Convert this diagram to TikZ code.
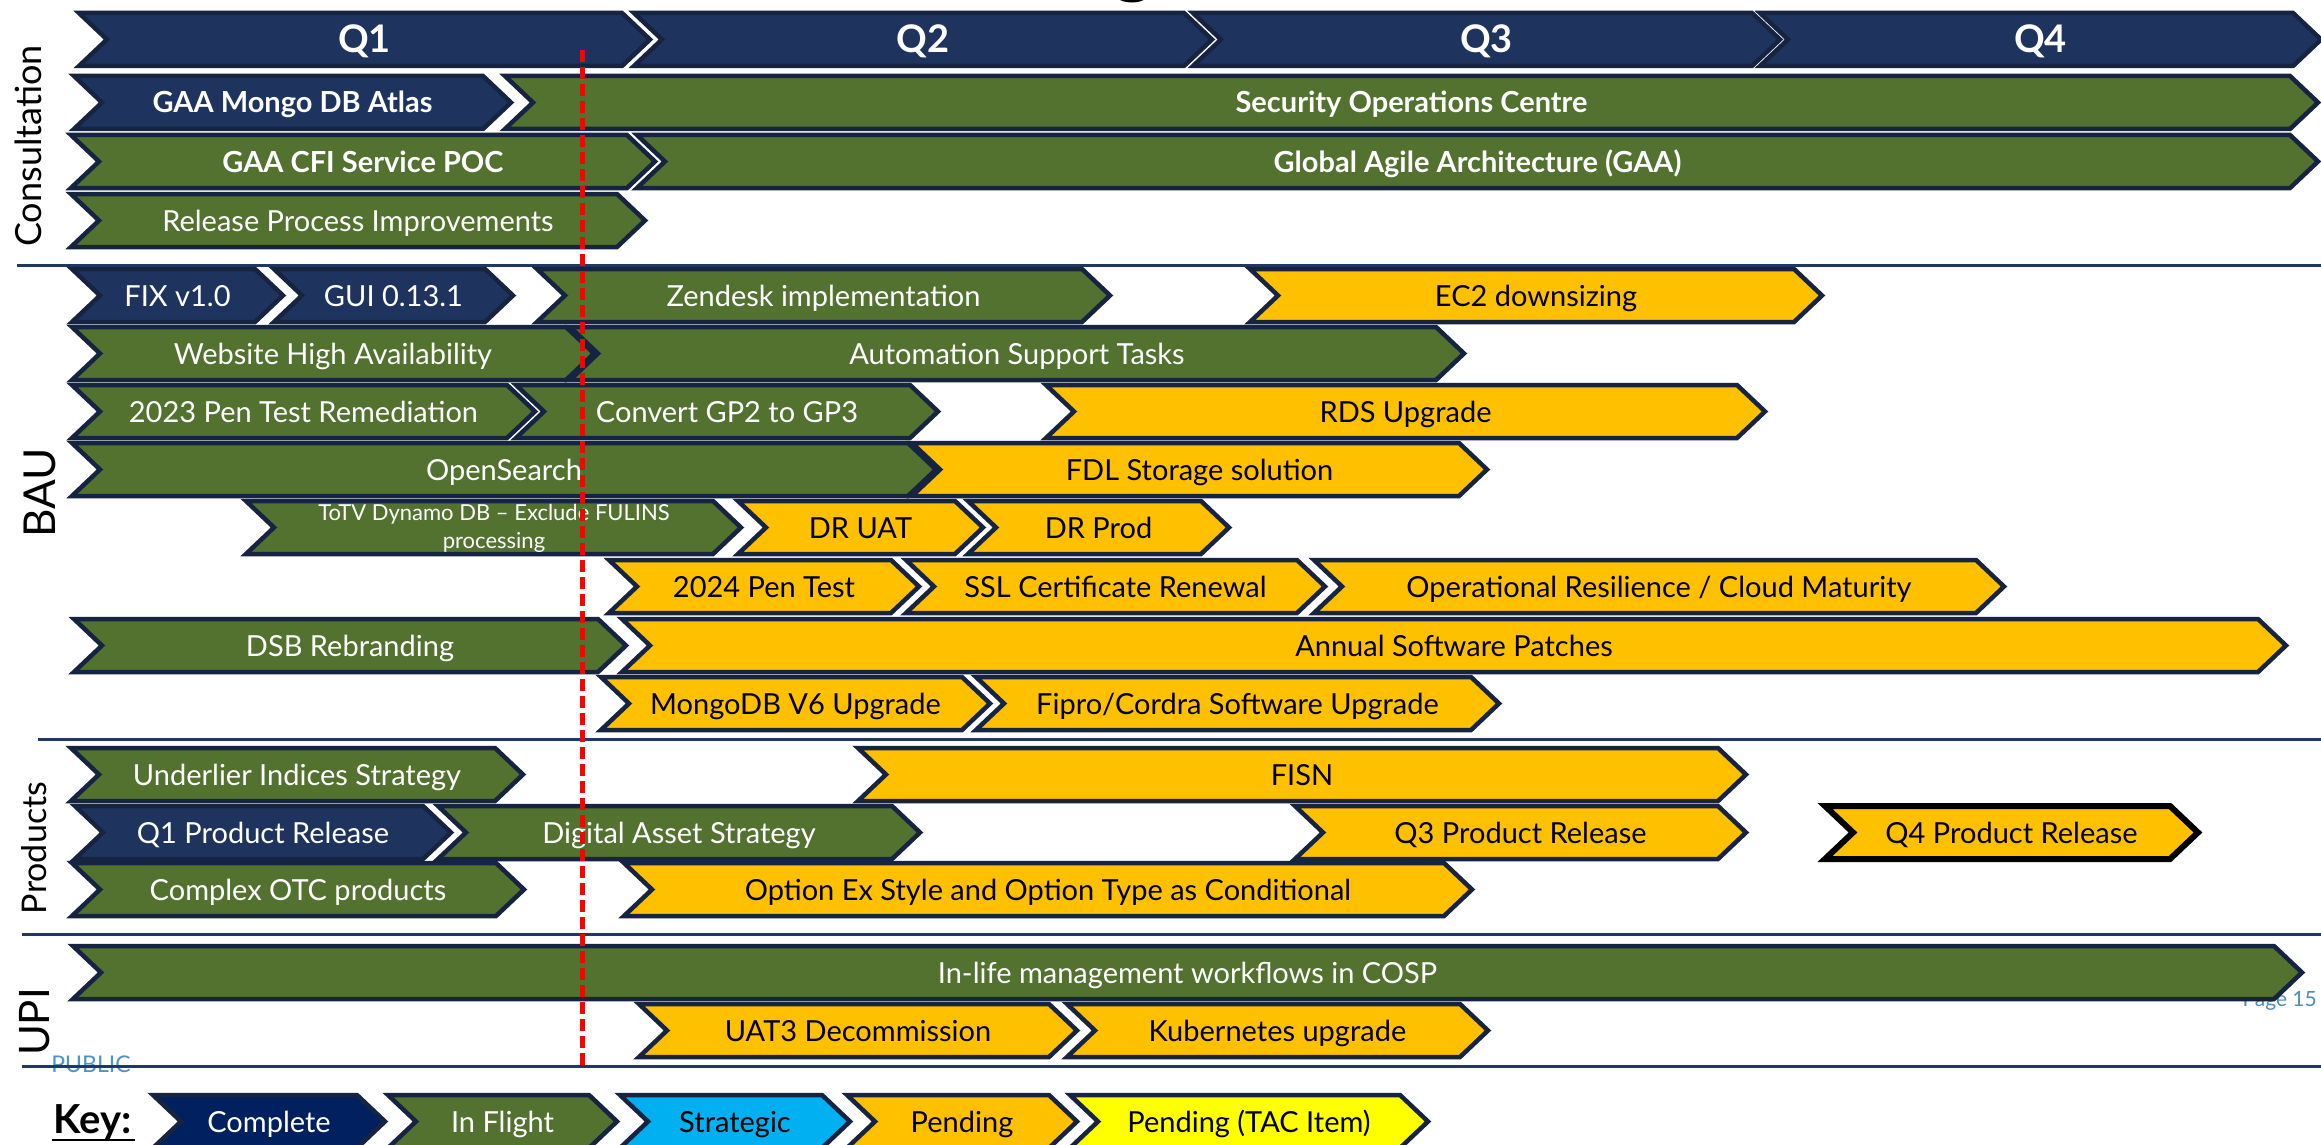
\documentclass[tikz,border=0pt]{standalone}
\usepackage{fontspec}
\setmainfont{Lato}
\definecolor{navy}{RGB}{30,52,95}
\definecolor{keynavy}{RGB}{0,32,96}
\definecolor{flight}{RGB}{83,114,48}
\definecolor{amber}{RGB}{255,192,0}
\definecolor{strat}{RGB}{0,176,240}
\definecolor{tac}{RGB}{255,255,0}
\definecolor{edge}{RGB}{22,36,66}
\definecolor{rulecol}{RGB}{31,56,100}
\definecolor{pubblue}{RGB}{74,150,200}
\definecolor{pageblue}{RGB}{80,140,185}
\def\cd{28}
\newcommand{\chev}[7]{%
  \path[bar,#5] (#2,#4) -- ({#3-\cd},#4) -- (#3,{#4+26.5}) -- ({#3-\cd},{#4+53}) -- (#2,{#4+53}) -- ({#2+\cd},{#4+26.5}) -- cycle;
  \node[#6] (#1) at ({(#2+#3)/2},{#4+26.5}) {#7};
}
\tikzset{
  bar/.style={draw=edge, line width=4.5pt, line join=miter},
  fnavy/.style={fill=navy},
  fkey/.style={fill=keynavy},
  fgreen/.style={fill=flight},
  famber/.style={fill=amber},
  famberblack/.style={fill=amber, draw=black, line width=6pt},
  fstrat/.style={fill=strat},
  ftac/.style={fill=tac},
  wt/.style={text=white, font=\fontsize{29}{32}\selectfont, text height=21pt, text depth=0pt, inner sep=0pt},
  bt/.style={wt, text=black},
  wbold/.style={wt, font=\fontsize{29}{32}\selectfont\bfseries},
  qt/.style={text=white, font=\fontsize{38}{40}\selectfont\bfseries, text height=27pt, text depth=0pt, inner sep=0pt},
  wsmall/.style={text=white, font=\fontsize{22}{24}\selectfont, anchor=base, inner sep=0pt},
  seclabel/.style={rotate=90, text=black, inner sep=0pt},
  sepline/.style={draw=rulecol, line width=3pt},
  redline/.style={draw=red, line width=5pt, dash pattern=on 12pt off 5pt},
}
\begin{document}
\begin{tikzpicture}[x=1pt,y=-1pt]
\useasboundingbox (0,0) rectangle (2321,1145);
\clip (0,0) rectangle (2321,1145);
\fill[white] (0,0) rectangle (2321,1145);

% cut-off title fragment
\node[font=\fontsize{80}{80}\selectfont\bfseries, anchor=base, inner sep=0pt] (titleg) at (1134,-11) {g};

% section labels
\node[seclabel, font=\fontsize{36}{36}\selectfont] (lblcons) at (28,146) {Consultation};
\node[seclabel, font=\fontsize{44}{44}\selectfont] (lblbau) at (40,493) {BAU};
\node[seclabel, font=\fontsize{34}{34}\selectfont] (lblprod) at (34,848) {Products};
\node[seclabel, font=\fontsize{42}{42}\selectfont] (lblupi) at (35,1022) {UPI};

% footer texts (under other shapes)
\node[text=pageblue, font=\fontsize{21}{21}\selectfont, anchor=base east, inner sep=0pt] (page) at (2317,1006) {Page 15};
\node[text=pubblue, font=\fontsize{23}{23}\selectfont, anchor=base, inner sep=0pt] (public) at (91,1072) {PUBLIC};

% separators
\coordinate (s1l) at (17,265);  \coordinate (s1r) at (2321,265);
\coordinate (s2l) at (38,739);  \coordinate (s2r) at (2321,739);
\coordinate (s3l) at (22,934);  \coordinate (s3r) at (2321,934);
\coordinate (s4l) at (22,1066); \coordinate (s4r) at (2321,1066);
\draw[sepline] (s1l) -- (s1r);
\draw[sepline] (s2l) -- (s2r);
\draw[sepline] (s3l) -- (s3r);
\draw[sepline] (s4l) -- (s4r);

% quarters
\chev{q1}{79}{650}{13}{fnavy}{qt}{Q1}
\chev{q2}{634}{1212}{13}{fnavy}{qt}{Q2}
\chev{q3}{1193}{1780}{13}{fnavy}{qt}{Q3}
\chev{q4}{1760}{2321}{13}{fnavy}{qt}{Q4}

% consultation
\chev{mongo}{74}{511}{76}{fnavy}{wbold}{GAA Mongo DB Atlas}
\chev{soc}{505}{2318}{76}{fgreen}{wbold}{Security Operations Centre}
\chev{cfi}{71}{655}{135}{fgreen}{wbold}{GAA CFI Service POC}
\chev{gaa}{637}{2318}{135}{fgreen}{wbold}{Global Agile Architecture (GAA)}
\chev{rpi}{71}{645}{194}{fgreen}{wt}{Release Process Improvements}

% BAU
\chev{fix}{72}{283}{269}{fnavy}{wt}{FIX v1.0}
\chev{gui}{274}{513}{269}{fnavy}{wt}{GUI 0.13.1}
\chev{zen}{537}{1110}{269}{fgreen}{wt}{Zendesk implementation}
\chev{ec2}{1250}{1822}{269}{famber}{bt}{EC2 downsizing}
\chev{web}{72}{594}{327}{fgreen}{wt}{Website High Availability}
\chev{auto}{570}{1464}{327}{fgreen}{wt}{Automation Support Tasks}
\chev{pen23}{72}{535}{385}{fgreen}{wt}{2023 Pen Test Remediation}
\chev{gp}{516}{938}{385}{fgreen}{wt}{Convert GP2 to GP3}
\chev{rds}{1046}{1765}{385}{famber}{bt}{RDS Upgrade}
\chev{os}{72}{936}{443}{fgreen}{wt}{OpenSearch}
\chev{fdl}{912}{1487}{443}{famber}{bt}{FDL Storage solution}
\chev{totv}{246}{741}{501}{fgreen}{wt}{}
\node[wsmall] (totva) at (494,520) {ToTV Dynamo DB – Exclude FULINS};
\node[wsmall] (totvb) at (494,548) {processing};
\chev{druat}{738}{983}{501}{famber}{bt}{DR UAT}
\chev{drprod}{968}{1229}{501}{famber}{bt}{DR Prod}
\chev{pen24}{609}{919}{560}{famber}{bt}{2024 Pen Test}
\chev{ssl}{906}{1325}{560}{famber}{bt}{SSL Certificate Renewal}
\chev{opres}{1314}{2004}{560}{famber}{bt}{Operational Resilience / Cloud Maturity}
\chev{dsb}{74}{626}{619}{fgreen}{wt}{DSB Rebranding}
\chev{asp}{622}{2286}{619}{famber}{bt}{Annual Software Patches}
\chev{mdb}{601}{990}{677}{famber}{bt}{MongoDB V6 Upgrade}
\chev{fipro}{976}{1499}{677}{famber}{bt}{Fipro/Cordra Software Upgrade}

% products
\chev{uis}{71}{523}{748}{fgreen}{wt}{Underlier Indices Strategy}
\chev{fisn}{858}{1746}{748}{famber}{bt}{FISN}
\chev{q1pr}{75}{451}{806}{fnavy}{wt}{Q1 Product Release}
\chev{das}{438}{920}{806}{fgreen}{wt}{Digital Asset Strategy}
\chev{q3pr}{1295}{1746}{806}{famber}{bt}{Q3 Product Release}
\chev{q4pr}{1825}{2198}{806}{famberblack}{bt}{Q4 Product Release}
\chev{otc}{72}{524}{863}{fgreen}{wt}{Complex OTC products}
\chev{opt}{624}{1472}{863}{famber}{bt}{Option Ex Style and Option Type as Conditional}

% UPI
\chev{inlife}{73}{2302}{946}{fgreen}{wt}{In-life management workflows in COSP}
\chev{uat3}{639}{1077}{1004}{famber}{bt}{UAT3 Decommission}
\chev{kube}{1067}{1488}{1004}{famber}{bt}{Kubernetes upgrade}

% key
\node[font=\fontsize{40}{40}\selectfont\bfseries, anchor=base, inner sep=0pt] (key) at (93,1133) {Key:};
\coordinate (kul) at (52,1140); \coordinate (kur) at (135,1140);
\draw[line width=2.5pt] (kul) -- (kur);
\chev{kcomplete}{153}{385}{1095}{fkey}{wt}{Complete}
\chev{kflight}{388}{617}{1095}{fgreen}{wt}{In Flight}
\chev{kstrat}{620}{850}{1095}{fstrat}{bt}{Strategic}
\chev{kpend}{847}{1077}{1095}{famber}{bt}{Pending}
\chev{ktac}{1070}{1428}{1095}{ftac}{bt}{Pending (TAC Item)}

% today marker
\coordinate (redtop) at (582,50);
\coordinate (redbot) at (582,1068);
\draw[redline] (redtop) -- (redbot);
\end{tikzpicture}
\end{document}
